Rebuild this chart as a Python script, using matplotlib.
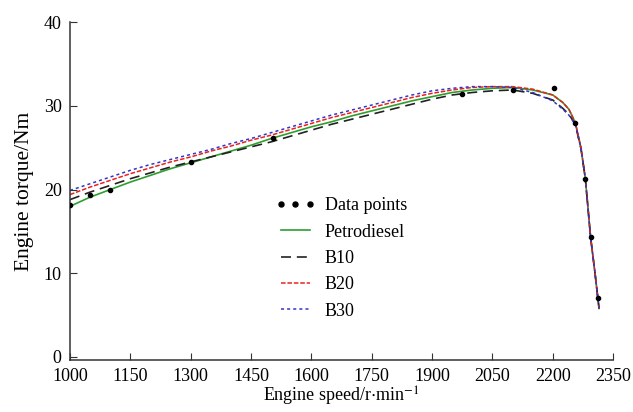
import matplotlib
matplotlib.use("Agg")
import matplotlib.pyplot as plt
import numpy as np

plt.rcParams['font.family'] = ['Liberation Serif', 'DejaVu Serif']
plt.rcParams['mathtext.fontset'] = 'stix'

# engine speed grid for the fitted curves (r/min)
speed = [1000, 1050, 1100, 1150, 1200, 1250, 1300, 1350, 1400, 1450, 1500,
         1550, 1600, 1650, 1700, 1750, 1800, 1850, 1900, 1950, 2000, 2050,
         2100, 2150, 2200, 2225, 2240, 2256, 2270, 2281, 2294, 2305, 2315]

petrodiesel = [18.0, 19.1, 20.0, 20.9, 21.7, 22.5, 23.2, 23.9, 24.6, 25.3, 26.1,
               26.8, 27.5, 28.1, 28.8, 29.4, 30.0, 30.6, 31.1, 31.6, 31.9, 32.1,
               32.2, 31.9, 31.3, 30.4, 29.6, 28.0, 25.0, 21.3, 14.3, 10.0, 5.8]
b10 = [18.8, 19.7, 20.5, 21.3, 22.0, 22.7, 23.3, 23.9, 24.5, 25.1, 25.7,
       26.4, 27.1, 27.8, 28.4, 29.0, 29.6, 30.2, 30.8, 31.3, 31.6, 31.8,
       31.9, 31.5, 30.7, 29.7, 29.0, 27.8, 24.9, 21.3, 14.3, 10.0, 5.8]
b20 = [19.4, 20.3, 21.1, 21.9, 22.6, 23.3, 23.9, 24.6, 25.2, 25.9, 26.5,
       27.2, 27.9, 28.6, 29.2, 29.8, 30.4, 31.0, 31.5, 31.9, 32.2, 32.3,
       32.3, 32.0, 31.3, 30.4, 29.6, 28.0, 25.0, 21.3, 14.3, 10.0, 5.8]
b30 = [19.9, 20.7, 21.5, 22.3, 23.0, 23.6, 24.2, 24.8, 25.5, 26.1, 26.8,
       27.5, 28.2, 28.9, 29.5, 30.1, 30.7, 31.3, 31.8, 32.1, 32.3, 32.3,
       32.2, 31.6, 30.6, 29.6, 28.9, 27.8, 24.9, 21.3, 14.3, 10.0, 5.8]

# measured points
pt_speed = [1000, 1050, 1100, 1300, 1505, 1975, 2100, 2202, 2256, 2281, 2294, 2313]
pt_torque = [18.1, 19.4, 20.0, 23.3, 26.2, 31.4, 31.9, 32.1, 28.0, 21.3, 14.3, 7.1]

xticks = [1000, 1150, 1300, 1450, 1600, 1750, 1900, 2050, 2200, 2350]
yticks = [0, 10, 20, 30, 40]

fig = plt.figure(figsize=(6.33, 4.12), dpi=100)
ax = fig.add_axes([0.1106, 0.1262, 0.858, 0.820])

ax.plot(pt_speed, pt_torque, linestyle='none', marker='o', markersize=3,
        color='black', label='Data points', zorder=5)
ax.plot(speed, petrodiesel, color='#2e9e2e', lw=1.2, label='Petrodiesel')
ax.plot(speed, b10, color='#222222', lw=1.2, dashes=(6, 3.5), label='B10')
ax.plot(speed, b20, color='#e8231e', lw=1.1, dashes=(3, 1.2), label='B20')
ax.plot(speed, b30, color='#3434c8', lw=1.1, dashes=(2, 2), label='B30')

ax.set_xlim(1000, 2350)
ax.set_ylim(-0.36, 40)
ax.set_xticks(xticks)
ax.set_yticks(yticks)
ax.spines['top'].set_visible(False)
ax.spines['right'].set_visible(False)
ax.tick_params(direction='in', length=5, labelsize=13, color='#333333')
ax.tick_params(axis='x', pad=6)
ax.tick_params(axis='y', pad=6)
for s in ['left', 'bottom']:
    ax.spines[s].set_color('#333333')
    ax.spines[s].set_linewidth(1.1)

ax.set_xlabel(r'Engine speed/r$\cdot$min$^{-1}$', fontsize=13, labelpad=0)
ax.set_ylabel('Engine torque/Nm', fontsize=15.5, labelpad=7)

leg = ax.legend(loc='upper left', bbox_to_anchor=(0.378, 0.482), frameon=False,
                fontsize=13, borderaxespad=0, borderpad=0, handlelength=2.2,
                handletextpad=0.55, labelspacing=0.52, numpoints=3,
                markerscale=1.2)

fig.savefig('out.png', dpi=100)
